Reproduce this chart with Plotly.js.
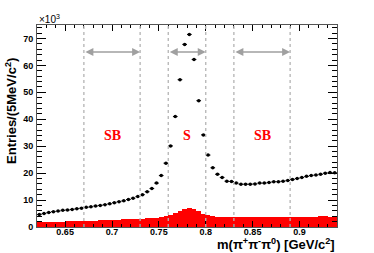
<!DOCTYPE html>
<html>
<head>
<meta charset="utf-8">
<script src="https://cdn.plot.ly/plotly-3.0.1.min.js"></script>
<style>html,body{margin:0;padding:0;background:#fff;}#chart{width:374px;height:253px;}</style>
</head>
<body>
<div id="chart"></div>
<script>
// bin centres (5 MeV bins from 0.62 to 0.94 GeV)
const binCenters = [
 0.6225,0.6275,0.6325,0.6375,0.6425,0.6475,0.6525,0.6575,0.6625,0.6675,
 0.6725,0.6775,0.6825,0.6875,0.6925,0.6975,0.7025,0.7075,0.7125,0.7175,
 0.7225,0.7275,0.7325,0.7375,0.7425,0.7475,0.7525,0.7575,0.7625,0.7675,
 0.7725,0.7775,0.7825,0.7875,0.7925,0.7975,0.8025,0.8075,0.8125,0.8175,
 0.8225,0.8275,0.8325,0.8375,0.8425,0.8475,0.8525,0.8575,0.8625,0.8675,
 0.8725,0.8775,0.8825,0.8875,0.8925,0.8975,0.9025,0.9075,0.9125,0.9175,
 0.9225,0.9275,0.9325,0.9375];
// data entries (x10^3)
const dataEntries = [
 4.6,5.0,5.4,5.7,5.9,6.2,6.3,6.5,6.8,7.0,
 7.3,7.5,7.8,8.0,8.3,8.6,9.0,9.4,9.7,10.2,
 10.7,11.3,12.0,13.1,14.3,16.3,19.1,23.7,30.1,41.0,
 54.7,67.8,71.5,62.2,46.9,34.2,26.7,22.0,19.6,18.4,
 17.0,16.9,16.3,15.9,15.9,15.9,16.0,16.3,16.3,16.5,
 16.8,16.8,17.0,17.3,17.6,18.0,18.4,18.8,19.1,19.3,
 19.6,20.0,20.2,20.1];
// red filled histogram (x10^3)
const redEntries = [
 1.8,1.8,1.9,1.9,2.0,2.0,2.1,2.1,2.2,2.3,
 2.3,2.4,2.4,2.5,2.5,2.6,2.7,2.7,2.8,2.8,
 2.9,3.0,3.1,3.2,3.3,3.5,3.7,4.0,4.5,5.3,
 6.0,6.6,6.9,6.5,5.8,5.0,4.3,4.0,3.9,3.8,
 3.8,3.8,3.7,3.8,3.7,3.7,3.8,3.7,3.8,3.8,
 3.7,3.8,3.8,3.8,3.8,3.9,3.8,3.8,3.9,3.9,
 4.0,4.0,3.9,3.9];
// region boundaries and labels
const regionStart = [0.67, 0.76, 0.83];
const regionEnd   = [0.73, 0.80, 0.89];
const regionLabels = ['SB', 'S', 'SB'];
const regionLabelX = [0.70, 0.78, 0.86];
const binWidth = 0.005;

const traces = [
  {type:'bar', x:binCenters, y:redEntries, width:binWidth,
   marker:{color:'#ff0000', line:{width:0}}, hoverinfo:'skip', showlegend:false},
  {type:'scatter', mode:'markers', x:binCenters, y:dataEntries,
   marker:{color:'#000', size:3.5},
   error_x:{type:'constant', value:binWidth/2, thickness:1, width:0, color:'#000'},
   showlegend:false}
];

const shapes = [];
const annotations = [];
const bounds = [...regionStart, ...regionEnd];
bounds.forEach(b => shapes.push({type:'line', xref:'x', yref:'paper', x0:b, x1:b, y0:0, y1:1,
  line:{color:'#b4b4b4', width:1.3, dash:'dot'}}));
for (let i = 0; i < regionStart.length; i++) {
  annotations.push({xref:'x', yref:'y', axref:'x', ayref:'y',
    x:regionEnd[i], y:65, ax:regionStart[i], ay:65, text:'', showarrow:true,
    arrowhead:2, startarrowhead:2, arrowside:'end+start', arrowsize:1, startarrowsize:1,
    arrowwidth:1.6, arrowcolor:'#a0a0a0', standoff:0, startstandoff:0});
  annotations.push({xref:'x', yref:'y', x:regionLabelX[i], y:34, text:'<b>'+regionLabels[i]+'</b>',
    showarrow:false, font:{family:'Liberation Serif, Times New Roman, serif', size:14, color:'#ff0000'}});
}
annotations.push({xref:'paper', yref:'paper', x:1, y:-0.086, xanchor:'right', yanchor:'middle',
  text:'<b>m(π<sup>+</sup>π<sup>-</sup>π<sup>0</sup>) [GeV/c<sup>2</sup>]</b>', showarrow:false,
  font:{family:'Liberation Sans, Arial, sans-serif', size:13, color:'#000'}});
annotations.push({xref:'paper', yref:'paper', x:-0.087, y:0.574, xanchor:'center', yanchor:'middle',
  textangle:-90, text:'<b>Entries/(5MeV/c<sup>2</sup>)</b>', showarrow:false,
  font:{family:'Liberation Sans, Arial, sans-serif', size:13, color:'#000'}});
annotations.push({xref:'paper', yref:'paper', x:0, y:1, xanchor:'left', yanchor:'bottom',
  text:'×10<sup>3</sup>', showarrow:false, yshift:-2,
  font:{family:'Liberation Sans, Arial, sans-serif', size:10, color:'#000'}});

const tickFont = {family:'Liberation Sans, Arial, sans-serif', size:9, color:'#000', weight:'bold'};
const layout = {
  width:374, height:253,
  margin:{l:37, r:37, t:25, b:26, pad:0},
  paper_bgcolor:'#fff', plot_bgcolor:'#fff',
  bargap:0, showlegend:false,
  xaxis:{range:[0.62, 0.94], tickvals:[0.65,0.7,0.75,0.8,0.85,0.9], ticktext:['0.65','0.7','0.75','0.8','0.85','0.9'],
    ticks:'inside', ticklen:6, tickcolor:'#000', tickwidth:1,
    minor:{dtick:0.01, tick0:0.62, ticks:'inside', ticklen:3, tickcolor:'#000'},
    showline:true, linecolor:'#555', linewidth:1, mirror:'ticks',
    showgrid:false, zeroline:false, tickfont:tickFont, ticklabelstandoff:-4},
  yaxis:{range:[0, 75], tickvals:[0,10,20,30,40,50,60,70],
    ticks:'inside', ticklen:9, tickcolor:'#000', tickwidth:1,
    minor:{dtick:2, tick0:0, ticks:'inside', ticklen:5, tickcolor:'#000'},
    showline:true, linecolor:'#555', linewidth:1, mirror:'ticks',
    showgrid:false, zeroline:false, tickfont:tickFont, ticklabelstandoff:1},
  shapes:shapes, annotations:annotations
};
Plotly.newPlot('chart', traces, layout, {staticPlot:true, displayModeBar:false});
</script>
</body>
</html>
